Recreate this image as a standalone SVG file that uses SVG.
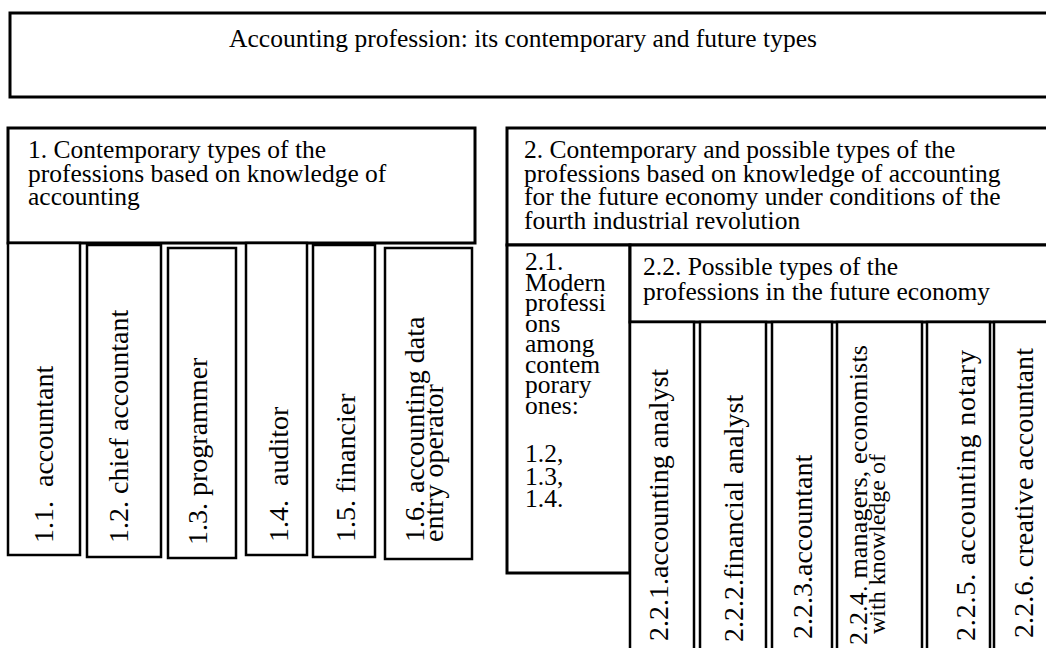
<svg xmlns="http://www.w3.org/2000/svg" width="1046" height="648" viewBox="0 0 1046 648">
<style>
.box{fill:#fff;stroke:#000;stroke-width:3}
.col{fill:#fff;stroke:#000;stroke-width:2.5}
.t{font-family:"Liberation Serif","Times New Roman",serif;font-size:25.5px;fill:#000}
.v{font-family:"Liberation Serif","Times New Roman",serif;font-size:28px;fill:#000}
</style>
<rect width="1046" height="648" fill="#fff"/>
<g id="title">
<rect class="box" x="10" y="13" width="1045" height="84" stroke-width="4"/>
<text class="t" x="523" y="47" text-anchor="middle">Accounting profession: its contemporary and future types</text>
</g>
<g id="n1">
<rect class="box" x="8" y="128" width="467" height="115"/>
<text class="t" x="28" y="158">1. Contemporary types of the</text>
<text class="t" x="28" y="181.5">professions based on knowledge of</text>
<text class="t" x="28" y="205">accounting</text>
</g>
<g id="n1-1">
<rect class="col" x="8" y="243" width="72" height="312"/>
<text class="v" transform="translate(53,543) rotate(-90)" xml:space="preserve">1.1.  accountant</text>
</g>
<g id="n1-2">
<rect class="col" x="87" y="245" width="74" height="312"/>
<text class="v" transform="translate(128,543) rotate(-90)">1.2. chief accountant</text>
</g>
<g id="n1-3">
<rect class="col" x="168" y="248" width="68" height="310"/>
<text class="v" transform="translate(207,545) rotate(-90)">1.3. programmer</text>
</g>
<g id="n1-4">
<rect class="col" x="246" y="243" width="61" height="312"/>
<text class="v" transform="translate(288,542) rotate(-90)" xml:space="preserve">1.4.  auditor</text>
</g>
<g id="n1-5">
<rect class="col" x="313" y="245" width="62" height="312"/>
<text class="v" transform="translate(355,542) rotate(-90)">1.5. financier</text>
</g>
<g id="n1-6">
<rect class="col" x="385" y="248" width="87" height="311"/>
<text class="v" transform="translate(424,542) rotate(-90)">1.6. accounting data</text>
<text class="v" transform="translate(443,542) rotate(-90)">entry operator</text>
</g>
<g id="n2">
<rect class="box" x="507" y="128" width="548" height="117"/>
<text class="t" x="524" y="158">2. Contemporary and possible types of the</text>
<text class="t" x="524" y="181.5">professions based on knowledge of accounting</text>
<text class="t" x="524" y="205">for the future economy under conditions of the</text>
<text class="t" x="524" y="228.5">fourth industrial revolution</text>
</g>
<g id="n2-1">
<rect class="box" x="507" y="245" width="123" height="328"/>
<text class="t" x="525" y="270">2.1.</text>
<text class="t" x="525" y="290.5">Modern</text>
<text class="t" x="525" y="311">professi</text>
<text class="t" x="525" y="331.5">ons</text>
<text class="t" x="525" y="352">among</text>
<text class="t" x="525" y="372.5">contem</text>
<text class="t" x="525" y="393">porary</text>
<text class="t" x="525" y="413.5">ones:</text>
<text class="t" x="525" y="462">1.2,</text>
<text class="t" x="525" y="484.5">1.3,</text>
<text class="t" x="525" y="507">1.4.</text>
</g>
<g id="n2-2">
<rect class="box" x="630" y="245" width="425" height="77"/>
<text class="t" x="643" y="275">2.2. Possible types of the</text>
<text class="t" x="643" y="300">professions in the future economy</text>
</g>
<g id="n2-2-1">
<rect class="col" x="630" y="322" width="64" height="340"/>
<text class="v" transform="translate(668,641) rotate(-90)">2.2.1.accounting analyst</text>
</g>
<g id="n2-2-2">
<rect class="col" x="700" y="322" width="66" height="340"/>
<text class="v" transform="translate(743,642) rotate(-90)">2.2.2.financial analyst</text>
</g>
<g id="n2-2-3">
<rect class="col" x="772" y="322" width="60" height="340"/>
<text class="v" transform="translate(812,639) rotate(-90)">2.2.3.accountant</text>
</g>
<g id="n2-2-4">
<rect class="col" x="837" y="322" width="85" height="340"/>
<text class="v" transform="translate(867,645) rotate(-90)" style="font-size:26px" textLength="300">2.2.4. managers, economists</text>
<text class="v" transform="translate(885,634) rotate(-90)" style="font-size:24px">with knowledge of</text>
</g>
<g id="n2-2-5">
<rect class="col" x="927" y="322" width="63" height="340"/>
<text class="v" transform="translate(975,641) rotate(-90)" textLength="291">2.2.5. accounting notary</text>
</g>
<g id="n2-2-6">
<rect class="col" x="994" y="322" width="60" height="340"/>
<text class="v" transform="translate(1033,638) rotate(-90)" textLength="290">2.2.6. creative accountant</text>
</g>
</svg>
